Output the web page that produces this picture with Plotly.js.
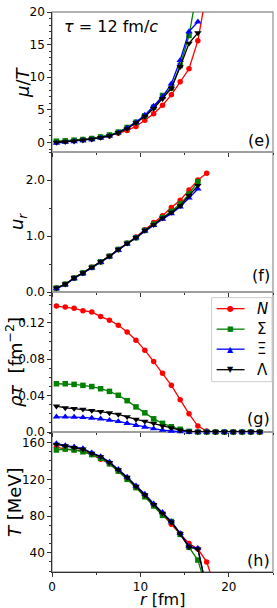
<!DOCTYPE html>
<html><head><meta charset="utf-8">
<script src="https://cdn.plot.ly/plotly-3.0.1.min.js"></script>
<style>html,body{margin:0;padding:0;background:#fff}#g{width:277px;height:608px}</style>
</head><body><div id="g"></div>
<script>
// radial positions [fm]
const r17 = [0.5,1.5,2.5,3.5,4.5,5.5,6.5,7.5,8.5,9.5,10.5,11.5,12.5,13.5,14.5,15.5,16.5];
const r18 = r17.concat([17.5]);
const r19 = r18.concat([18.5]);
const r24 = r19.concat([19.5,20.5,21.5,22.5,23.5]);

// (e) mu/T
const muT_N  = [0.1,0.2,0.3,0.45,0.6,0.8,1.05,1.4,1.85,2.46,3.4,4.4,5.7,7.3,9.3,11.3,15.6,23.2];
const muT_S  = [0.2,0.25,0.35,0.45,0.6,0.85,1.15,1.6,2.3,3.1,4.1,5.4,7.2,8.3,11.8,16.4,24.0];
const muT_X  = [-0.1,0.05,0.15,0.3,0.45,0.7,1.0,1.5,2.2,3.1,4.2,5.6,7.0,9.0,12.6,17.0,18.5];
const muT_L  = [0.0,0.1,0.2,0.35,0.5,0.75,1.0,1.5,2.1,3.0,4.0,5.2,6.7,8.3,11.6,15.2,16.8];

// (f) u_r
const ur_N = [0.07,0.14,0.25,0.34,0.44,0.54,0.64,0.76,0.87,0.98,1.11,1.24,1.36,1.51,1.64,1.82,2.0,2.12];
const ur_S = [0.07,0.14,0.25,0.34,0.44,0.54,0.64,0.76,0.87,0.97,1.10,1.21,1.33,1.44,1.57,1.75,1.97];
const ur_X = [0.06,0.13,0.24,0.33,0.43,0.53,0.63,0.75,0.86,0.97,1.09,1.19,1.30,1.40,1.52,1.68,1.84];
const ur_L = [0.07,0.14,0.25,0.34,0.44,0.54,0.64,0.76,0.87,0.97,1.10,1.20,1.32,1.42,1.54,1.72,1.90];

// (g) rho*tau [fm^-2]
const rho_N = [0.1385,0.1375,0.136,0.1335,0.132,0.127,0.123,0.1175,0.110,0.101,0.090,0.0775,0.0647,0.0513,0.0356,0.020,0.0065,0.001,0,0,0,0,0,0];
const rho_S = [0.0531,0.0531,0.0524,0.0513,0.050,0.0476,0.0447,0.0404,0.0345,0.0276,0.0211,0.0145,0.0095,0.0058,0.003,0.0007,0,0,0,0,0,0,0,0];
const rho_X = [0.0167,0.0167,0.0164,0.016,0.0153,0.0145,0.013,0.0116,0.0095,0.0073,0.0055,0.0036,0.002,0.001,0.0004,0,0,0,0,0,0,0,0,0];
const rho_L = [0.0284,0.0265,0.0258,0.025,0.0236,0.0225,0.021,0.0193,0.0167,0.0138,0.0118,0.0095,0.0065,0.0044,0.002,0.0007,0,0,0,0,0,0,0,0];

// (h) T [MeV]
const T_N = [155,153,152,151,147,142,137,129,121,111,102,91.5,82,71,61,50,44,30,0];
const T_S = [152,153,152,150,147,143,137,129,120,111,101,91,80.7,74,60,46,32,0];
const T_X = [159,157,155.5,153.5,149,145,139,131,122.5,113,104,93.5,84,74,61,47,45,0];
const T_L = [158,156.4,154.6,152.8,148.2,144.5,138.3,130.4,122,112.3,103,92.5,83,73.3,60.5,46,44,0];

const names = ['<i>N</i>','Σ','Ξ','Λ'];
const colors = ['#ff0000','#008000','#0000ff','#000000'];
const symbols = ['circle','square','triangle-up','triangle-down'];
const glyphs = ['●','■','▲','▼'];

const panels = [
  {xa:'x', ya:'y',  xs:[r18,r17,r17,r17], ys:[muT_N,muT_S,muT_X,muT_L], clip:true},
  {xa:'x2',ya:'y2', xs:[r18,r17,r17,r17], ys:[ur_N,ur_S,ur_X,ur_L], clip:true},
  {xa:'x3',ya:'y3', xs:[r24,r24,r24,r24], ys:[rho_N,rho_S,rho_X,rho_L], clip:false},
  {xa:'x4',ya:'y4', xs:[r19,r18,r18,r18], ys:[T_N,T_S,T_X,T_L], clip:true}
];
const data = [];
panels.forEach(p=>{
  for(let i=0;i<4;i++){
    data.push({x:p.xs[i].slice(0,p.ys[i].length), y:p.ys[i], xaxis:p.xa, yaxis:p.ya,
      type:'scatter', mode:'lines+markers', name:names[i], showlegend:false,
      cliponaxis:p.clip,
      line:{color:colors[i], width:1.3},
      marker:{color:colors[i], symbol:symbols[i], size:i>=2?6.5:5.5, line:{width:0}}});
  }
});

const fnt = {family:'DejaVu Sans', size:12, color:'#000'};
function xax(anchor, labels){
  return {anchor:anchor, range:[0,25], matches: anchor==='y4'?undefined:'x4', tickvals:[0,10,20], ticks:'outside', ticklen:3.5, tickwidth:1, tickcolor:'#333',
    showticklabels:labels, showgrid:false, zeroline:false, showline:labels, linecolor:'#333', linewidth:1.2,
    minor:{tickvals:[5,15,25], ticks:'outside', ticklen:2, tickcolor:'#333'}, tickfont:fnt};
}
function yax(dom, rng, tv, ttext, minor){
  return {domain:dom, range:rng, tickvals:tv, ticktext:ttext, ticks:'outside', ticklen:3.5, tickwidth:1, tickcolor:'#333',
    showgrid:false, zeroline:false, showline:true, linecolor:'#333', linewidth:1.2, tickfont:fnt,
    minor:{dtick:minor, ticks:'outside', ticklen:2, tickcolor:'#333'}};
}
const doms = [[0.75,1],[0.5,0.75],[0.25,0.5],[0,0.25]];
const PX = px => (px-52)/221.5;
const PY = py => (571.7-py)/559.7;
const shapes = doms.map(d=>({type:'rect', xref:'paper', yref:'paper', x0:0, x1:1, y0:d[0], y1:d[1], line:{color:'#999', width:1.3}, layer:'below'}));

const afnt = {family:'DejaVu Sans', size:18, color:'#000'};
const plabel = {family:'DejaVu Sans', size:16, color:'#000'};
const annotations = [
  {xref:'paper', yref:'paper', x:0.045, y:0.975, xanchor:'left', yanchor:'middle', text:'<i>τ</i> = 12 fm/<i>c</i>', showarrow:false, font:{family:'DejaVu Sans', size:16, color:'#000'}},
  {xref:'paper', yref:'paper', x:0.995, y:0.77, xanchor:'right', yanchor:'middle', text:'(e)', showarrow:false, font:plabel},
  {xref:'paper', yref:'paper', x:0.995, y:0.53, xanchor:'right', yanchor:'middle', text:'(f)', showarrow:false, font:plabel},
  {xref:'paper', yref:'paper', x:0.995, y:0.275, xanchor:'right', yanchor:'middle', text:'(g)', showarrow:false, font:plabel},
  {xref:'paper', yref:'paper', x:0.995, y:0.02, xanchor:'right', yanchor:'middle', text:'(h)', showarrow:false, font:plabel},
  {xref:'paper', yref:'paper', x:PX(22), y:0.875, xanchor:'center', yanchor:'middle', textangle:-90, text:'<i>μ</i>/<i>T</i>', showarrow:false, font:afnt},
  {xref:'paper', yref:'paper', x:PX(18), y:0.625, xanchor:'center', yanchor:'middle', textangle:-90, text:'<i>u</i><sub><i>r</i></sub>', showarrow:false, font:afnt},
  {xref:'paper', yref:'paper', x:PX(14), y:0.375, xanchor:'center', yanchor:'middle', textangle:-90, text:'<i>ρτ</i>  [fm<sup>−2</sup>]', showarrow:false, font:afnt},
  {xref:'paper', yref:'paper', x:PX(14), y:0.125, xanchor:'center', yanchor:'middle', textangle:-90, text:'<i>T</i> [MeV]', showarrow:false, font:afnt},
  {xref:'paper', yref:'paper', x:0.5, y:PY(599), xanchor:'center', yanchor:'middle', text:'<i>r</i> [fm]', showarrow:false, font:{family:'DejaVu Sans', size:16, color:'#000'}}
];

// manual legend
shapes.push({type:'rect', xref:'paper', yref:'paper', x0:PX(212), x1:PX(272.5), y0:PY(381.5), y1:PY(297.5), line:{color:'#ccc', width:1}, fillcolor:'rgba(255,255,255,0.85)', layer:'above'});
const legY = [308.5, 329, 349, 369.5];
for(let i=0;i<4;i++){
  shapes.push({type:'line', xref:'paper', yref:'paper', x0:PX(217), x1:PX(245), y0:PY(legY[i]), y1:PY(legY[i]), line:{color:colors[i], width:1.3}, layer:'above'});
  annotations.push({xref:'paper', yref:'paper', x:PX(231), y:PY(legY[i]), xanchor:'center', yanchor:'middle', text:glyphs[i], showarrow:false, font:{family:'DejaVu Sans', size:i==1?7:8, color:colors[i]}});
  annotations.push({xref:'paper', yref:'paper', x:PX(255), y:PY(legY[i]), xanchor:'left', yanchor:'middle', text:names[i], showarrow:false, font:{family:'DejaVu Sans', size:15, color:'#000'}});
}

const layout = {
  width:277, height:608, margin:{l:52, r:3.5, t:12, b:36.3},
  paper_bgcolor:'#fff', plot_bgcolor:'#fff', showlegend:false,
  xaxis: xax('y', false), xaxis2: xax('y2', false), xaxis3: xax('y3', false),
  xaxis4: xax('y4', true),
  yaxis: yax(doms[0], [-1.46,20], [0,5,10,15,20], ['0','5','10','15','20'], 1),
  yaxis2: yax(doms[1], [0,2.5], [0,1,2], ['0.0','1.0','2.0'], 0.5),
  yaxis3: yax(doms[2], [0,0.154], [0,0.04,0.08,0.12], ['0.0','0.04','0.08','0.12'], 0.01),
  yaxis4: yax(doms[3], [19,171.6], [40,80,120,160], ['40','80','120','160'], 10),
  shapes:shapes, annotations:annotations
};
Plotly.newPlot('g', data, layout, {displayModeBar:false, staticPlot:true});
</script></body></html>
